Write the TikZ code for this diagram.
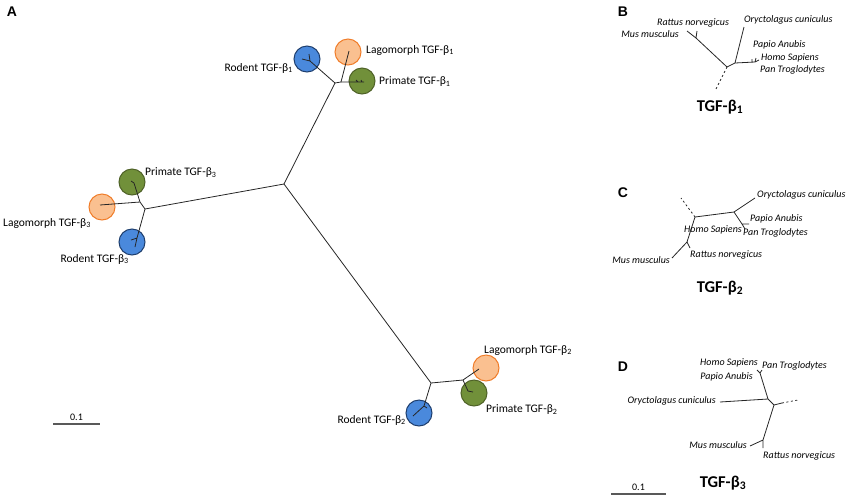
\documentclass[tikz,border=0pt]{standalone}
\usepackage{fontspec}
\setmainfont{Carlito}
\newfontfamily\letterfont{Liberation Sans}
\definecolor{rodfill}{HTML}{4A89DC}
\definecolor{roddraw}{HTML}{1F3F6E}
\definecolor{lagfill}{HTML}{FAC090}
\definecolor{lagdraw}{HTML}{F07D2A}
\definecolor{prifill}{HTML}{71903A}
\definecolor{pridraw}{HTML}{4F6228}
\tikzset{
  branch/.style={line width=0.8pt,black!85},
  stub/.style={line width=0.8pt,black!85,dash pattern=on 2pt off 2.5pt},
  clade/.style={circle,minimum size=26pt,inner sep=0pt,line width=1pt},
  rodent/.style={clade,draw=roddraw,fill=rodfill},
  lagomorph/.style={clade,draw=lagdraw,fill=lagfill},
  primate/.style={clade,draw=pridraw,fill=prifill},
  grouplabel/.style={inner sep=0pt,font=\fontsize{11.5}{13}\selectfont},
  species/.style={inner sep=0pt,font=\fontsize{10}{11}\selectfont\itshape},
  title/.style={inner sep=0pt,font=\fontsize{16.5}{18}\selectfont\bfseries},
  panel/.style={inner sep=0pt,font=\fontsize{14}{15}\letterfont\bfseries},
  scalebar/.style={line width=1.2pt,black!65}
}
\begin{document}
\begin{tikzpicture}[x=1pt,y=-1pt]
        \useasboundingbox (0,0) rectangle (851,499);
        %% Panel letters
        \node[panel] (lA) at (12,12) {A};
        \node[panel] (lB) at (623,12) {B};
        \node[panel] (lC) at (623,193) {C};
        \node[panel] (lD) at (623,367) {D};
        %% Clades of panel A
        \node[rodent] (rod1) at (307,59) {};
        \node[lagomorph] (lag1) at (348,52) {};
        \node[primate] (pri1) at (362,81) {};
        \node[primate] (pri3) at (132,182) {};
        \node[lagomorph] (lag3) at (102,207) {};
        \node[rodent] (rod3) at (132,242) {};
        \node[lagomorph] (lag2) at (486,368) {};
        \node[primate] (pri2) at (474,393) {};
        \node[rodent] (rod2) at (419,413) {};
        %% Tree of panel A
        \coordinate (root) at (284,184);
        \coordinate (j1) at (335,83);
        \coordinate (j1p) at (341,82);
        \coordinate (j3) at (145,209);
        \coordinate (j3p) at (140,202);
        \coordinate (j2) at (431,383);
        \coordinate (j2p) at (463,380);
        \draw[branch] (root) -- (j1) (root) -- (j3) (root) -- (j2);
        \draw[branch] (j1) -- (310,61) -- (309,54) (310,61) -- (302,59);
        \draw[branch] (j1) -- (j1p) -- (349,51);
        \draw[branch] (j1p) -- (364,82) (358,82) -- (356,80) (362,82) -- (361,80);
        \draw[branch] (j3) -- (j3p) -- (134,183) -- (131,181);
        \draw[branch] (j3p) -- (100,205);
        \draw[branch] (j3) -- (137,238) -- (135,247) (137,238) -- (131,240);
        \draw[branch] (j2) -- (j2p) -- (479,369);
        \draw[branch] (j2p) -- (468,391) -- (473,392);
        \draw[branch] (j2) -- (424,406) -- (413,416) (424,406) -- (427,408);
        %% Labels of panel A
        \node[grouplabel,anchor=east] (tRod1) at (293,68) {Rodent TGF-β\textsubscript{1}};
        \node[grouplabel,anchor=west] (tLag1) at (366,50) {Lagomorph TGF-β\textsubscript{1}};
        \node[grouplabel,anchor=west] (tPri1) at (379,82) {Primate TGF-β\textsubscript{1}};
        \node[grouplabel,anchor=west] (tPri3) at (145,173) {Primate TGF-β\textsubscript{3}};
        \node[grouplabel,anchor=west] (tLag3) at (3,223) {Lagomorph TGF-β\textsubscript{3}};
        \node[grouplabel,anchor=east] (tRod3) at (129,259) {Rodent TGF-β\textsubscript{3}};
        \node[grouplabel,anchor=west] (tLag2) at (484,350) {Lagomorph TGF-β\textsubscript{2}};
        \node[grouplabel,anchor=west] (tPri2) at (486,410) {Primate TGF-β\textsubscript{2}};
        \node[grouplabel,anchor=east] (tRod2) at (406,420) {Rodent TGF-β\textsubscript{2}};
        %% Scale bar A
        \coordinate (sA1) at (53,424);
        \coordinate (sA2) at (100,424);
        \draw[scalebar] (sA1) -- (sA2) node[midway,above=3pt,inner sep=0pt,font=\fontsize{10}{11}\selectfont,black] {0.1};
        %% Panel B
        \coordinate (jB) at (727,67);
        \coordinate (jBr) at (696,38);
        \coordinate (jBo) at (735,63);
        \coordinate (jBp) at (755,62);
        \draw[stub] (jB) -- (716,89);
        \draw[branch] (jB) -- (jBr) -- (687,31) (jBr) -- (697,31);
        \draw[branch] (jB) -- (jBo) -- (744,27) (jBo) -- (jBp) -- (756,58) (jBp) -- (759,60) (752,62) -- (752,59);
        \node[species,anchor=center] (bRat) at (693,23) {Rattus norvegicus};
        \node[species,anchor=east] (bMus) at (679,34) {Mus musculus};
        \node[species,anchor=west] (bOry) at (744,20) {Oryctolagus cuniculus};
        \node[species,anchor=west] (bPap) at (753,45) {Papio Anubis};
        \node[species,anchor=west] (bHom) at (761,58) {Homo Sapiens};
        \node[species,anchor=west] (bPan) at (760,70) {Pan Troglodytes};
        \node[title] (tB) at (720,107) {TGF-β\textsubscript{1}};
        %% Panel C
        \coordinate (jC) at (695,217);
        \coordinate (jCo) at (734,212);
        \coordinate (jCp) at (742,224);
        \coordinate (jCr) at (687,242);
        \draw[stub] (jC) -- (681,198);
        \draw[branch] (jC) -- (jCo) -- (755,198) (jCo) -- (jCp) -- (749,224) (jCp) -- (745,229);
        \draw[branch] (jC) -- (jCr) -- (672,258) (jCr) -- (690,248);
        \node[species,anchor=west] (cOry) at (757,195) {Oryctolagus cuniculus};
        \node[species,anchor=west] (cPap) at (750,219) {Papio Anubis};
        \node[species,anchor=west] (cPan) at (743,233) {Pan Troglodytes};
        \node[species,anchor=east] (cHom) at (742,230) {Homo Sapiens};
        \node[species,anchor=west] (cRat) at (690,255) {Rattus norvegicus};
        \node[species,anchor=east] (cMus) at (670,260) {Mus musculus};
        \node[title] (tC) at (720,288) {TGF-β\textsubscript{2}};
        %% Panel D
        \coordinate (jD) at (774,405);
        \coordinate (jDo) at (768,399);
        \coordinate (jDp) at (760,373);
        \coordinate (jDr) at (763,440);
        \draw[branch] (jD) -- (782,403);
        \draw[stub] (782,403) -- (798,400);
        \draw[branch] (jD) -- (jDo) -- (720,402) (jDo) -- (jDp) -- (757,370) (jDp) -- (762,370);
        \draw[branch] (jD) -- (jDr) -- (750,446) (jDr) -- (763,448);
        \node[species,anchor=east] (dHom) at (758,363) {Homo Sapiens};
        \node[species,anchor=west] (dPan) at (762,366) {Pan Troglodytes};
        \node[species,anchor=east] (dPap) at (753,377) {Papio Anubis};
        \node[species,anchor=east] (dOry) at (716,401) {Oryctolagus cuniculus};
        \node[species,anchor=east] (dMus) at (747,445) {Mus musculus};
        \node[species,anchor=west] (dRat) at (763,456) {Rattus norvegicus};
        \node[title] (tD) at (723,483) {TGF-β\textsubscript{3}};
        %% Scale bar D
        \coordinate (sD1) at (611,494);
        \coordinate (sD2) at (666,494);
        \draw[scalebar] (sD1) -- (sD2) node[midway,above=3pt,inner sep=0pt,font=\fontsize{10}{11}\selectfont,black] {0.1};
    \end{tikzpicture}
\end{document}
